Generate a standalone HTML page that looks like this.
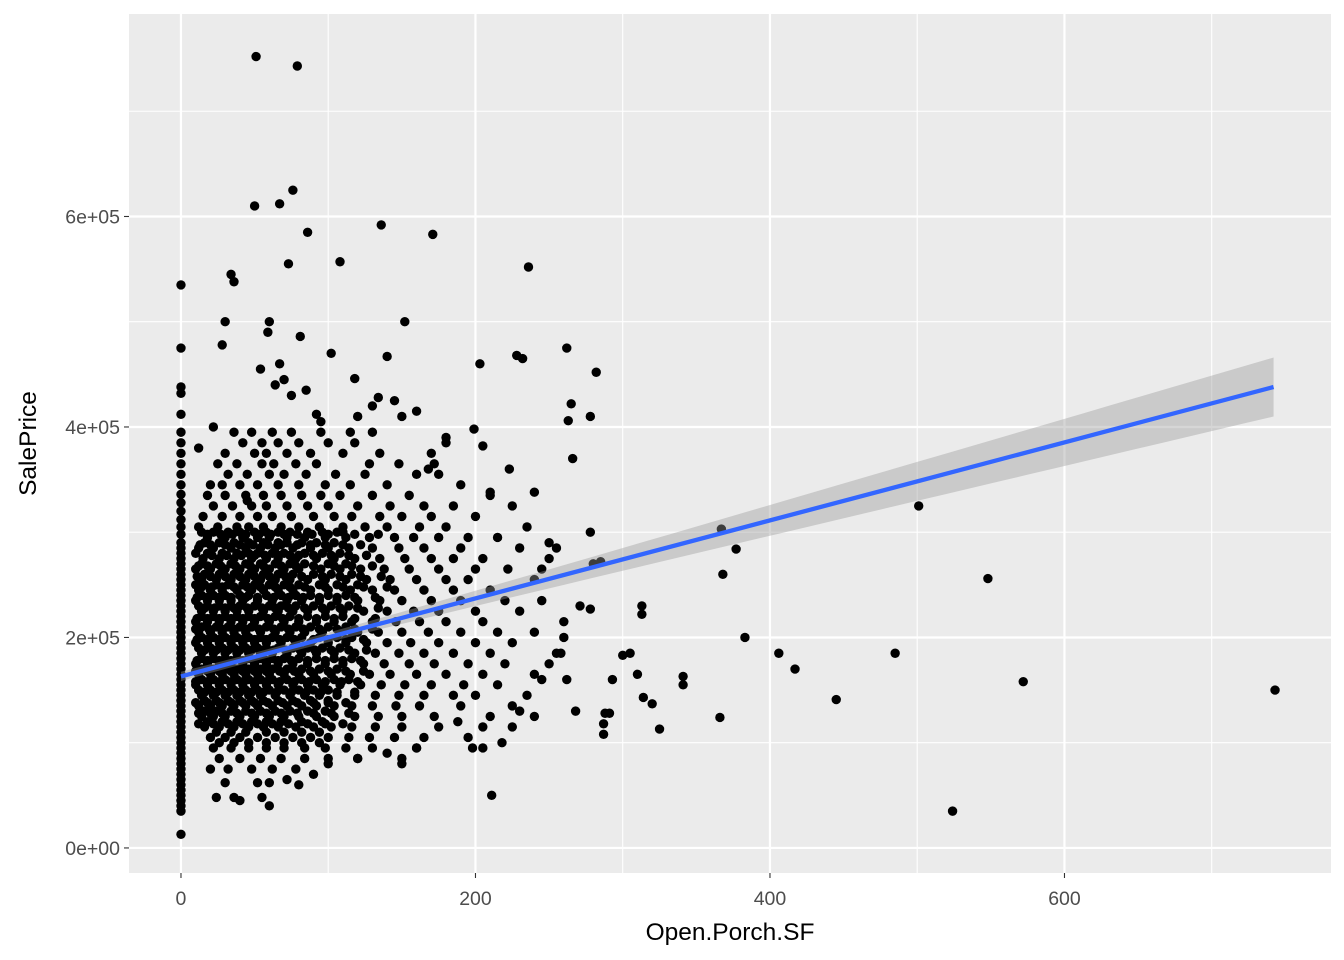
<!DOCTYPE html>
<html><head><meta charset="utf-8">
<style>
html,body{margin:0;padding:0;background:#fff;}
svg{display:block;font-family:"Liberation Sans",Arial,sans-serif;}
</style></head>
<body>
<svg id="chart" width="1344" height="960" viewBox="0 0 1344 960" xmlns="http://www.w3.org/2000/svg"></svg>
<script>
// ---- data ----
const xTicks = [0, 200, 400, 600];
const xMinor = [100, 300, 500, 700];
const yTicks = [0, 200000, 400000, 600000];
const yTickLabels = ["0e+00", "2e+05", "4e+05", "6e+05"];
const yMinor = [100000, 300000, 500000, 700000];
const fitLine = [163000, 370.6];          // intercept, slope
const fitBand = [4000, 48, 0.001595];       // se at mean, mean x, growth
// outlier / scattered points [Open.Porch.SF, SalePrice(k)]
const scatterPoints = [
[51,752],[79,743],[50,610],[67,612],[76,625],[86,585],[136,592],[171,583],[236,552],[34,545],[36,538],[73,555],[108,557],
[30,500],[60,500],[152,500],[59,490],[81,486],[28,478],[262,475],[102,470],[140,467],[228,468],[232,465],[282,452],[203,460],
[54,455],[67,460],[118,446],[134,428],[145,425],[265,422],[278,410],[263,406],[266,370],[367,303],[377,284],[368,260],[501,325],
[548,256],[383,200],[406,185],[417,170],[485,185],[572,158],[743,150],[445,141],[524,35],[211,50],[366,124],[341,163],[341,155],
[313,230],[313,222],[300,183],[305,185],[310,165],[314,143],[320,137],[325,113],[293,160],[288,128],[291,128],[287,118],[287,108],
[278,300],[268,130],[280,270],[285,272],[262,160],[271,230],[278,227],[199,398],[205,382],[180,390],[168,360],[172,365],[223,360],
[240,338],[210,338],[250,290],[255,285],[245,265],[260,200],[258,185],[250,175],[245,160],[235,145],[230,130],[225,115],[218,100],
[205,95],[195,105],[188,120],[160,95],[150,80],[140,90],[120,85],[100,80],[90,70],[60,40],[40,45],[80,60],[72,65],[12,380],[22,400],
[45,330],[110,300],[120,410],[130,420],[92,412],[85,435],[64,440],[70,445],[75,430],[95,405],[115,395],[160,415],[150,410]
];
// x = 0 column (SalePrice k)
const zeroPorch = [13,35,40,45,50,55,60,65,70,75,80,85,90,95,100,105,110,115,120,125,130,135,140,145,150,155,160,165,170,175,180,185,190,195,
200,205,210,215,220,225,230,235,240,245,250,255,260,265,270,275,280,285,290,298,305,312,320,328,336,345,355,365,375,385,395,412,432,438,475,535];
// dense cluster rows: [SalePrice(k), [Open.Porch.SF values]]
const clusterRows = [
[395,[36,48,62,75,95,130]],
[385,[42,55,66,80,100,118,180]],
[375,[30,50,58,72,88,110,135,170]],
[365,[25,38,55,63,78,92,128,148]],
[355,[32,45,60,70,85,105,125,160,175]],
[345,[20,28,40,52,66,80,98,115,140,190]],
[335,[18,30,44,56,68,82,95,108,130,155,210]],
[325,[22,35,48,58,72,86,100,120,142,165,185,225]],
[315,[15,28,40,52,62,75,90,104,116,135,150,170,200]],
[305,[12,25,38,46,56,68,80,94,110,125,140,162,180,235]],
[295,[18,30,42,52,60,72,84,98,112,128,145,158,175,195,215]],
[285,[12,22,34,44,54,64,76,88,100,114,130,148,165,190,230]],
[275,[15,26,36,48,58,66,78,92,104,118,135,152,170,185,205,250]],
[265,[10,20,30,40,50,60,70,80,95,108,122,138,155,175,200,222]],
[255,[14,24,34,44,54,64,74,86,98,112,126,142,160,180,195,240]],
[245,[12,20,28,38,48,56,66,76,88,100,115,130,145,165,185,210]],
[235,[10,18,26,34,42,52,62,72,82,94,106,120,135,150,170,190,220,245]],
[225,[14,22,30,38,46,56,66,76,86,98,110,124,140,158,175,200,230]],
[215,[10,18,26,34,42,50,60,70,80,92,104,116,130,146,162,180,205,260]],
[205,[12,20,28,36,44,54,64,74,84,96,108,120,134,150,168,190,215,240]],
[195,[10,18,26,34,42,50,58,68,78,88,100,112,126,140,156,175,200,225]],
[185,[14,22,30,38,46,54,62,72,82,92,104,118,132,148,165,185,210,255]],
[175,[10,18,26,34,42,50,58,66,76,86,98,110,124,138,155,172,195,220]],
[165,[12,20,28,36,44,52,60,70,80,90,102,115,128,142,160,180,205,240]],
[155,[10,18,26,34,42,50,58,66,76,86,96,108,122,136,152,170,192,215]],
[145,[14,22,30,38,46,54,64,74,84,94,106,118,132,148,165,185,200]],
[135,[12,20,28,36,44,52,62,72,82,92,104,116,130,146,162,190,225]],
[125,[14,22,30,40,50,60,70,80,92,104,118,134,150,172,210,240]],
[115,[16,26,36,46,56,66,78,90,102,116,132,150,175,205]],
[105,[20,30,40,52,64,76,88,100,114,128,145,165]],
[95,[22,34,46,58,70,84,98,112,130,160,198]],
[85,[26,40,54,68,84,100,120,150]],
[75,[20,32,48,62,78]],
[62,[30,52,60]],
[48,[24,36,55]],
[300,[14,22,32,40,50,58,66,74,86,96,106]],
[290,[16,26,36,46,56,66,72,82,92,104]],
[280,[10,18,28,38,46,52,62,70,84,96,108]],
[270,[14,24,34,44,54,64,74,84,100,112]],
[260,[16,26,36,46,56,66,76,90,102,116]],
[250,[10,16,24,32,42,50,60,70,80,94,106,120]],
[240,[14,22,30,40,46,58,68,78,88,100,112]],
[230,[12,18,26,34,40,50,60,68,78,90,102,114]],
[220,[14,22,30,38,46,54,64,74,86,98,110]],
[210,[14,24,32,40,48,58,68,78,88,100,112]],
[200,[14,22,30,38,46,54,62,72,82,94,106,116]],
[190,[12,20,28,36,44,52,58,66,76,86,96,108]],
[180,[14,22,30,38,46,54,62,70,80,92,104,116]],
[170,[14,22,30,38,46,54,62,72,82,94,106]],
[160,[14,22,30,38,46,54,62,72,82,92,104,114]],
[150,[12,20,28,36,44,52,60,70,80,90,100]],
[140,[16,24,32,40,48,56,66,76,88,100]],
[130,[16,24,34,44,54,64,74,86,98]],
[120,[18,28,38,48,58,68,82,96]],
[110,[24,34,44,58,70,82,94]],
[298,[18,27,35,44,53,61,70,79,89,100,118,134]],
[288,[13,20,30,40,49,59,68,79,88,98,110,122]],
[278,[21,31,41,50,57,66,74,80,90,102,114,126]],
[268,[12,18,27,37,47,56,68,78,90,104,116,130]],
[258,[11,20,30,40,50,60,71,82,96,108,122,136]],
[248,[14,21,28,36,45,54,64,74,84,98,110,124,140]],
[238,[11,18,26,34,44,52,63,73,83,94,106,118,132]],
[228,[16,23,30,36,45,55,64,73,84,96,108,120,134]],
[218,[11,18,26,34,42,50,59,69,80,92,104,118,132]],
[208,[10,19,28,36,44,53,63,73,83,94,106,118,130]],
[198,[11,18,26,34,42,50,58,67,77,90,100,112,124]],
[188,[16,24,32,40,48,56,63,71,81,91,102,114,126]],
[178,[11,18,26,34,42,50,58,66,75,86,98,110,122]],
[168,[10,18,26,34,42,50,58,67,77,88,100,112,124]],
[158,[10,18,26,34,42,50,58,67,77,87,98,109,120]],
[148,[16,24,32,40,48,56,65,75,85,95,106,118]],
[138,[10,18,26,34,42,50,59,69,79,90,100,112]],
[128,[12,20,28,38,48,58,68,79,90,102,114]],
[118,[12,22,32,42,52,62,73,86,98,110]],
[100,[26,36,46,58,70,82,94]]
];

// ---- layout ----
const P = {l:129, r:1331, t:14, b:873};
const xDom = [-35.3, 781];
const yDom = [-23800, 792400];
const sx = v => P.l + (v - xDom[0]) / (xDom[1] - xDom[0]) * (P.r - P.l);
const sy = v => P.b - (v - yDom[0]) / (yDom[1] - yDom[0]) * (P.b - P.t);
const NS = "http://www.w3.org/2000/svg";
const svg = document.getElementById('chart');
function mk(tag, attrs, parent){
  const e = document.createElementNS(NS, tag);
  for (const k in attrs) e.setAttribute(k, attrs[k]);
  (parent||svg).appendChild(e); return e;
}
const panel = mk('rect',{x:P.l,y:P.t,width:P.r-P.l,height:P.b-P.t,fill:'#EBEBEB'});



const grid = mk('g',{});


xMinor.forEach(v=>mk('line',{x1:sx(v),x2:sx(v),y1:P.t,y2:P.b,stroke:'#fff','stroke-width':1.1},grid));
yMinor.forEach(v=>mk('line',{x1:P.l,x2:P.r,y1:sy(v),y2:sy(v),stroke:'#fff','stroke-width':1.1},grid));
xTicks.forEach(v=>mk('line',{x1:sx(v),x2:sx(v),y1:P.t,y2:P.b,stroke:'#fff','stroke-width':2.2},grid));
yTicks.forEach(v=>mk('line',{x1:P.l,x2:P.r,y1:sy(v),y2:sy(v),stroke:'#fff','stroke-width':2.2},grid));

// points
const pts = mk('g',{fill:'#000'});


function dot(x,yk){
  const c = mk('circle',{cx:sx(x),cy:sy(yk*1000),r:4.7},pts);
  
  
}
zeroPorch.forEach(y=>dot(0,y));
clusterRows.forEach(r=>r[1].forEach(x=>dot(x,r[0])));
scatterPoints.forEach(p=>dot(p[0],p[1]));

// fit band & line
const x0 = 0, x1 = 742;
const fit = x => fitLine[0] + fitLine[1]*x;
const hw = x => 1000*Math.sqrt(Math.pow(fitBand[0]/1000,2) + fitBand[2]*Math.pow(x-fitBand[1],2));
let up=[], lo=[];
for(let i=0;i<=40;i++){const x=x0+(x1-x0)*i/40; up.push(sx(x)+','+sy(fit(x)+hw(x))); lo.unshift(sx(x)+','+sy(fit(x)-hw(x)));}
const band = mk('polygon',{points:up.concat(lo).join(' '),fill:'#999','fill-opacity':0.4});


const line = mk('line',{x1:sx(x0),y1:sy(fit(x0)),x2:sx(x1),y2:sy(fit(x1)),stroke:'#3366FF','stroke-width':4.3});



// axes
const xa = mk('g',{});


xTicks.forEach(v=>{
  mk('line',{x1:sx(v),x2:sx(v),y1:P.b,y2:P.b+5,stroke:'#333','stroke-width':1.1},xa);
  const t = mk('text',{x:sx(v),y:P.b+32,'text-anchor':'middle','font-size':19.5,fill:'#4D4D4D'},xa);
  t.textContent = v;
  
  
});
const ya = mk('g',{});


yTicks.forEach((v,i)=>{
  mk('line',{x1:P.l-5,x2:P.l,y1:sy(v),y2:sy(v),stroke:'#333','stroke-width':1.1},ya);
  const t = mk('text',{x:P.l-9,y:sy(v)+7,'text-anchor':'end','font-size':19.5,fill:'#4D4D4D'},ya);
  t.textContent = yTickLabels[i];
  
  
});
const xt = mk('text',{x:(P.l+P.r)/2,y:940,'text-anchor':'middle','font-size':24.5,fill:'#000'});
xt.textContent='Open.Porch.SF';


const yt = mk('text',{x:0,y:0,'text-anchor':'middle','font-size':24.5,fill:'#000',transform:'translate(36,'+((P.t+P.b)/2)+') rotate(-90)'});
yt.textContent='SalePrice';


</script>
</body></html>
